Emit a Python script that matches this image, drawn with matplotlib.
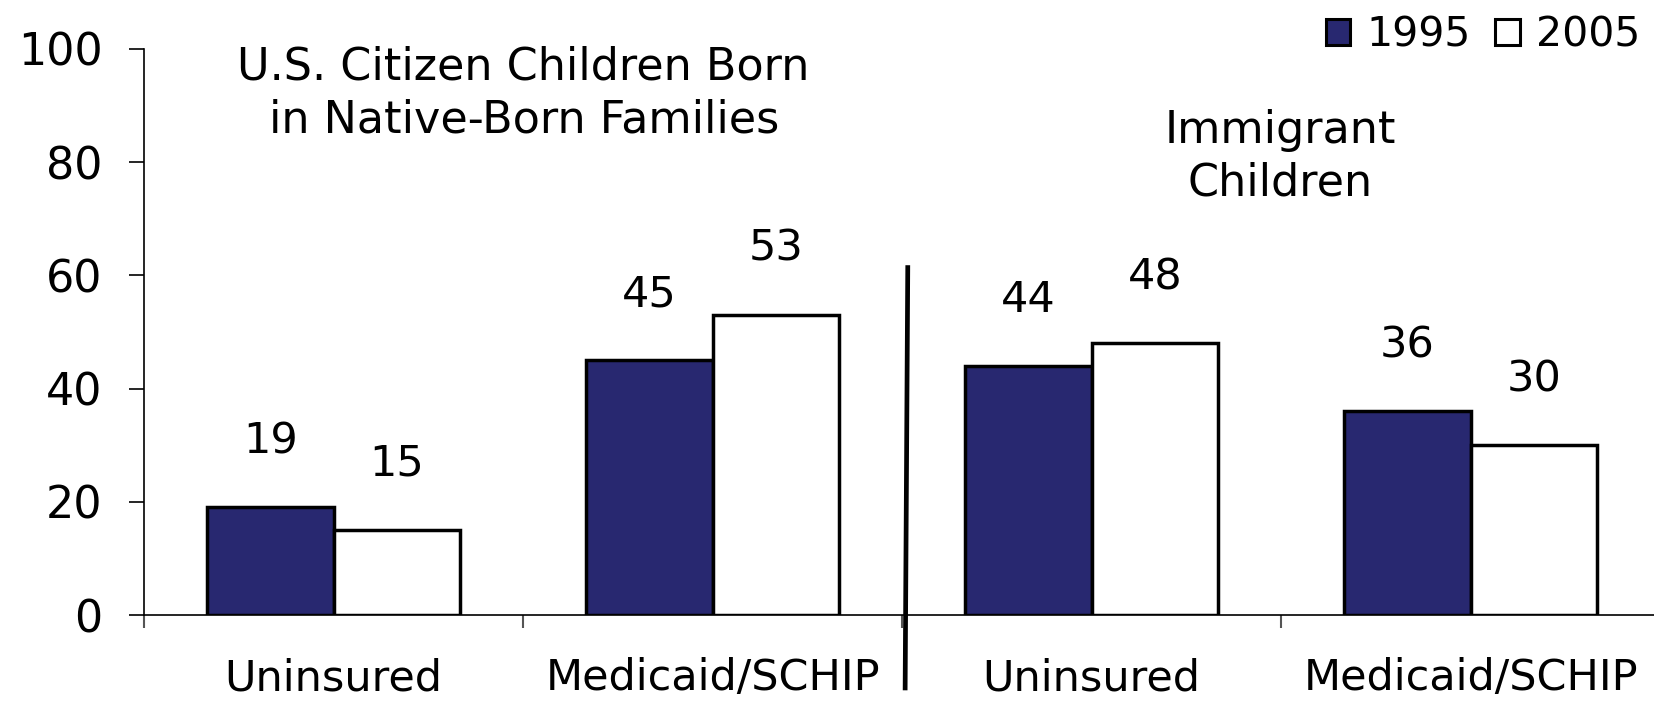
import numpy as np
import matplotlib
matplotlib.use("Agg")
import matplotlib.pyplot as plt
from matplotlib.patches import Patch

categories = ["Uninsured", "Medicaid/SCHIP", "Uninsured", "Medicaid/SCHIP"]
series_names = ["1995", "2005"]
vals_1995 = [19, 45, 44, 36]
vals_2005 = [15, 53, 48, 30]
y_ticks = [0, 20, 40, 60, 80, 100]

group_titles = ["U.S. Citizen Children Born\nin Native-Born Families",
                "Immigrant\nChildren"]

NAVY = "#282870"
EDGE = "#000000"

plt.rcParams["font.family"] = ["DejaVu Sans"]

fig = plt.figure(figsize=(16.54, 7.02), dpi=100)
ax = fig.add_axes([0.0871, 0.1239, 0.9166, 0.8063])

x = np.arange(len(categories))
w = 0.3337

bars_a = ax.bar(x - w / 2, vals_1995, width=w, color=NAVY, edgecolor=EDGE,
                linewidth=2.5, zorder=3)
bars_b = ax.bar(x + w / 2, vals_2005, width=w, color="white", edgecolor=EDGE,
                linewidth=2.5, zorder=3)

# value labels above each bar
for bars, vals in ((bars_a, vals_1995), (bars_b, vals_2005)):
    for b, v in zip(bars, vals):
        ax.annotate(f"{v}", (b.get_x() + b.get_width() / 2, v),
                    xytext=(0, 39), textcoords="offset points",
                    ha="center", va="baseline", fontsize=31)

ax.set_xlim(-0.5, len(categories) - 0.5)
ax.set_ylim(0, 100)
ax.set_yticks(y_ticks)
ax.set_yticklabels([str(t) for t in y_ticks], fontsize=32)
ax.tick_params(axis="y", direction="out", length=10.8, width=1.2, pad=19)

# ticks sit between categories, labels go under the centres
ax.set_xticks(np.arange(len(categories) + 1) - 0.5)
ax.set_xticklabels([])
ax.tick_params(axis="x", direction="out", length=9.4, width=1.5,
               color="#555555")
for i, c in enumerate(categories):
    ax.text(i, -0.133, c, transform=ax.get_xaxis_transform(),
            ha="center", va="baseline", fontsize=31)

for s in ["top", "right"]:
    ax.spines[s].set_visible(False)
for s in ["left", "bottom"]:
    ax.spines[s].set_linewidth(1.2)

# divider between the two groups
div_x = [1.515, 1.508]
div_y = [61.8, -13.3]
ax.plot(div_x, div_y, color="black", linewidth=3.4, clip_on=False,
        solid_capstyle="butt", zorder=4)

fig.text(0.3166, 0.935, group_titles[0], ha="center", va="top",
         fontsize=32, linespacing=1.28)
fig.text(0.774, 0.845, group_titles[1], ha="center", va="top",
         fontsize=32, linespacing=1.28)

handles = [Patch(facecolor=NAVY, edgecolor=EDGE, linewidth=2.2),
           Patch(facecolor="white", edgecolor=EDGE, linewidth=2.2)]
fig.legend(handles, series_names, loc="upper right",
           bbox_to_anchor=(0.997, 0.99), ncol=2, frameon=False,
           fontsize=29.5, handlelength=0.6, handleheight=0.6,
           handletextpad=0.4, columnspacing=0.6, borderpad=0.2,
           borderaxespad=0)

fig.savefig("out.png", dpi=100)
